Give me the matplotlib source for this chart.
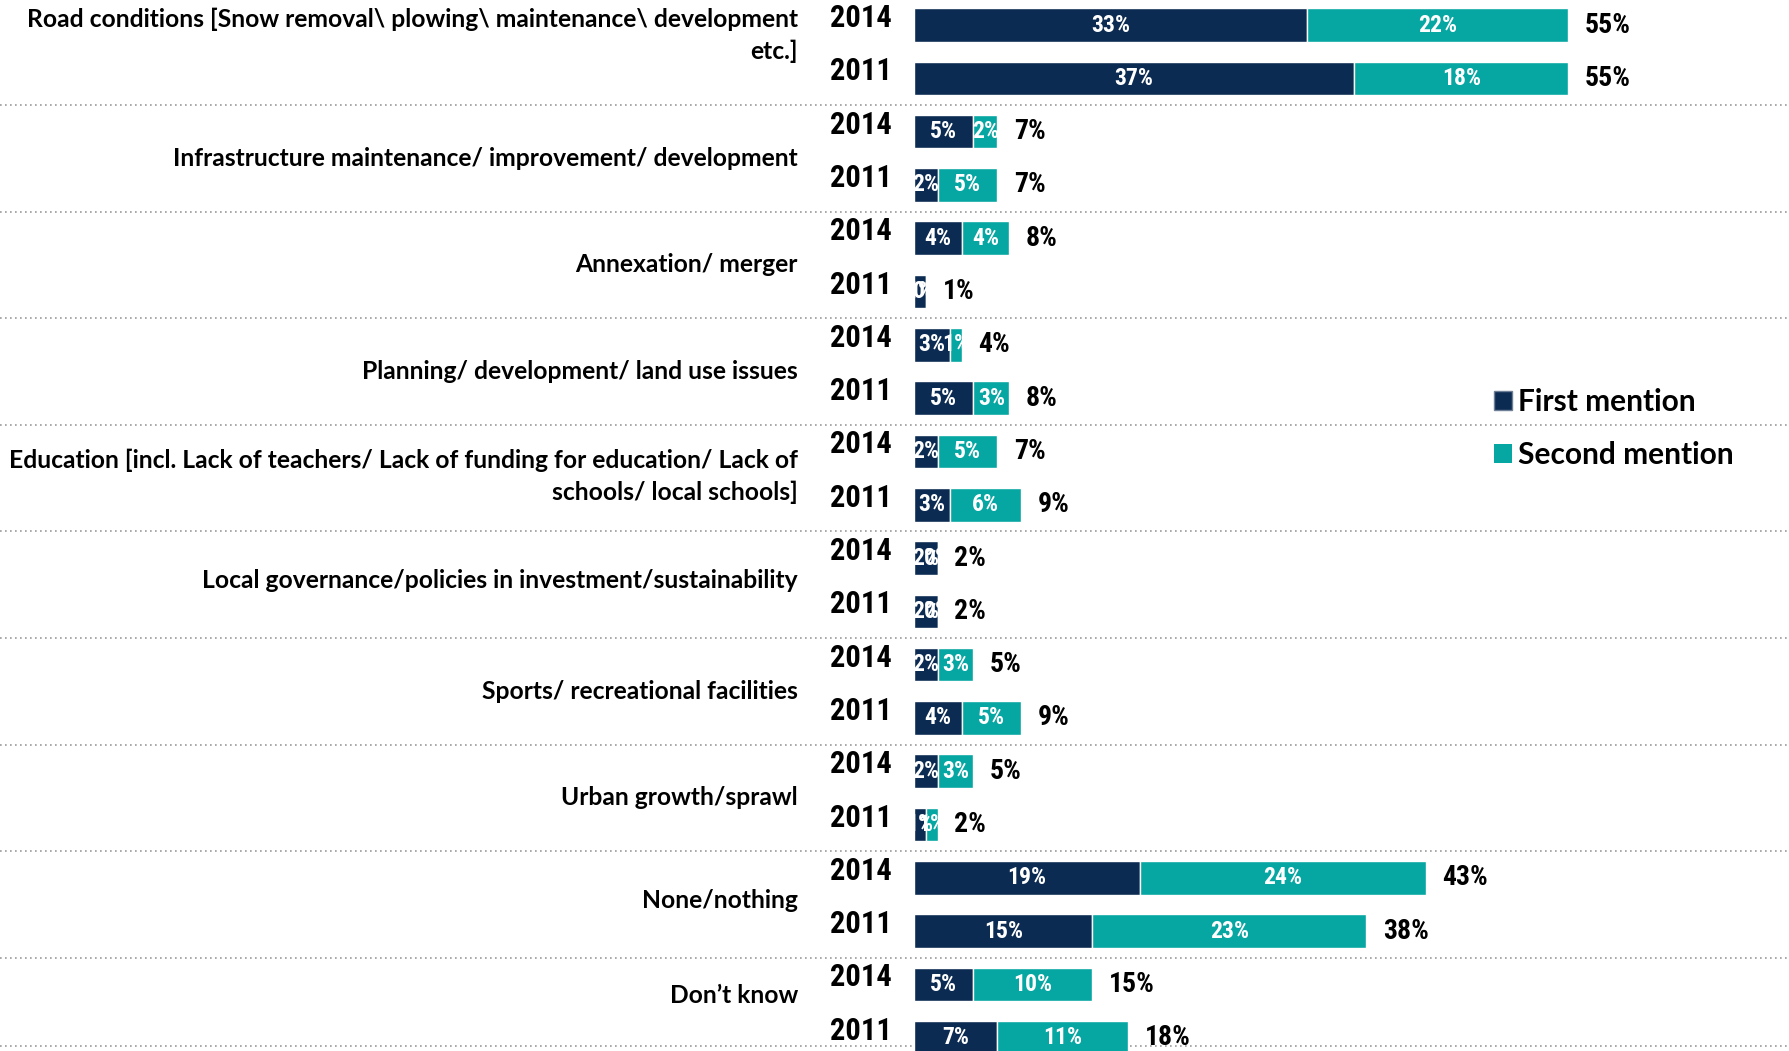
import numpy as np
import matplotlib.pyplot as plt
from matplotlib.transforms import blended_transform_factory
from matplotlib.patches import Patch
from matplotlib import font_manager

# categories, each with a 2014 and a 2011 bar
categories = ['Road conditions [Snow removal\\ plowing\\ maintenance\\ development\netc.]',
              'Infrastructure maintenance/ improvement/ development',
              'Annexation/ merger',
              'Planning/ development/ land use issues',
              'Education [incl. Lack of teachers/ Lack of funding for education/ Lack of\nschools/ local schools]',
              'Local governance/policies in investment/sustainability',
              'Sports/ recreational facilities',
              'Urban growth/sprawl',
              'None/nothing',
              'Don\u2019t know']
years = ['2014', '2011']

first_2014 = [33, 5, 4, 3, 2, 2, 2, 2, 19, 5]
second_2014 = [22, 2, 4, 1, 5, 0, 3, 3, 24, 10]
first_2011 = [37, 2, 1, 5, 3, 2, 4, 1, 15, 7]
second_2011 = [18, 5, 0, 3, 6, 0, 5, 1, 23, 11]
total_2014 = [55, 7, 8, 4, 7, 2, 5, 5, 43, 15]
total_2011 = [55, 7, 1, 8, 9, 2, 9, 2, 38, 18]

navy = '#0c2b52'
teal = '#06a6a2'
sans = ['Lato', 'DejaVu Sans']

# look for a narrow bold face for the numbers
narrow = dict(family=['DejaVu Sans'], fontstretch='condensed')
for name in ['Liberation Sans Narrow', 'Roboto Condensed', 'Open Sans Condensed',
             'Noto Sans Condensed']:
    try:
        font_manager.findfont(font_manager.FontProperties(family=name, weight='bold'),
                              fallback_to_default=False)
        narrow = dict(family=[name, 'DejaVu Sans'])
        break
    except Exception:
        pass

W, H = 1790, 1051
fig = plt.figure(figsize=(W / 100, H / 100), dpi=100)
x0 = 914 / W
ax = fig.add_axes([x0, 0, 1 - x0, 1])
ax.set_axis_off()

# interleave the two years into one list of rows
first, second, total, rowyear = [], [], [], []
for i in range(len(categories)):
    first += [first_2014[i], first_2011[i]]
    second += [second_2014[i], second_2011[i]]
    total += [total_2014[i], total_2011[i]]
    rowyear += years
first = np.array(first)
second = np.array(second)
y = np.arange(len(first))

ax.barh(y, first, height=0.63, color=navy, edgecolor='white', linewidth=1)
ax.barh(y, second, left=first, height=0.63, color=teal, edgecolor='white', linewidth=1)
ax.set_xlim(0, (W - 914) / 11.9)
ax.set_ylim(19.25, -0.47)

for yi, f, s, t in zip(y, first, second, total):
    ax.text(f / 2, yi, f'{f}%', ha='center', va='center', color='white',
            fontsize=17, fontweight='bold', **narrow)
    ax.text(f + s / 2, yi, f'{s}%', ha='center', va='center', color='white',
            fontsize=17, fontweight='bold', **narrow)
    ax.annotate(f'{t}%', (f + s, yi), xytext=(12, 0), textcoords='offset points',
                ha='left', va='center', fontsize=20, fontweight='bold', **narrow)

tr = blended_transform_factory(fig.transFigure, ax.transData)
for yi, yr in zip(y, rowyear):
    ax.text(892 / W, yi - 0.13, yr, transform=tr, ha='right', va='center',
            fontsize=22, fontweight='bold', **narrow)

nudge = [-0.31, 0, 0, 0, -0.03, -0.07, 0, 0, -0.07, -0.29]
for i, c in enumerate(categories):
    ax.text(798 / W, 2 * i + 0.5 + nudge[i], c, transform=tr, ha='right', va='center',
            fontsize=17.7, fontweight='bold', family=sans, linespacing=1.45,
            multialignment='right')

# dotted separators between groups
for k in range(len(categories)):
    yl = 2 * k + 1.5 if k < len(categories) - 1 else 19.15
    ax.plot([0, 1], [yl, yl], transform=tr, color='#9a9a9a', linestyle=(0, (1, 2)),
            linewidth=1.2, clip_on=False, zorder=0)

handles = [Patch(facecolor=navy, edgecolor='#6f7f95'), Patch(facecolor=teal)]
fig.legend(handles, ['First mention', 'Second mention'], loc='upper left',
           bbox_to_anchor=(1467 / W, 1 - 361 / H), frameon=False,
           handlelength=0.6, handleheight=0.6, handletextpad=0.2, labelspacing=0.85,
           prop={'family': sans, 'weight': 'bold', 'size': 21.5})

fig.savefig('out.png', dpi=100)
